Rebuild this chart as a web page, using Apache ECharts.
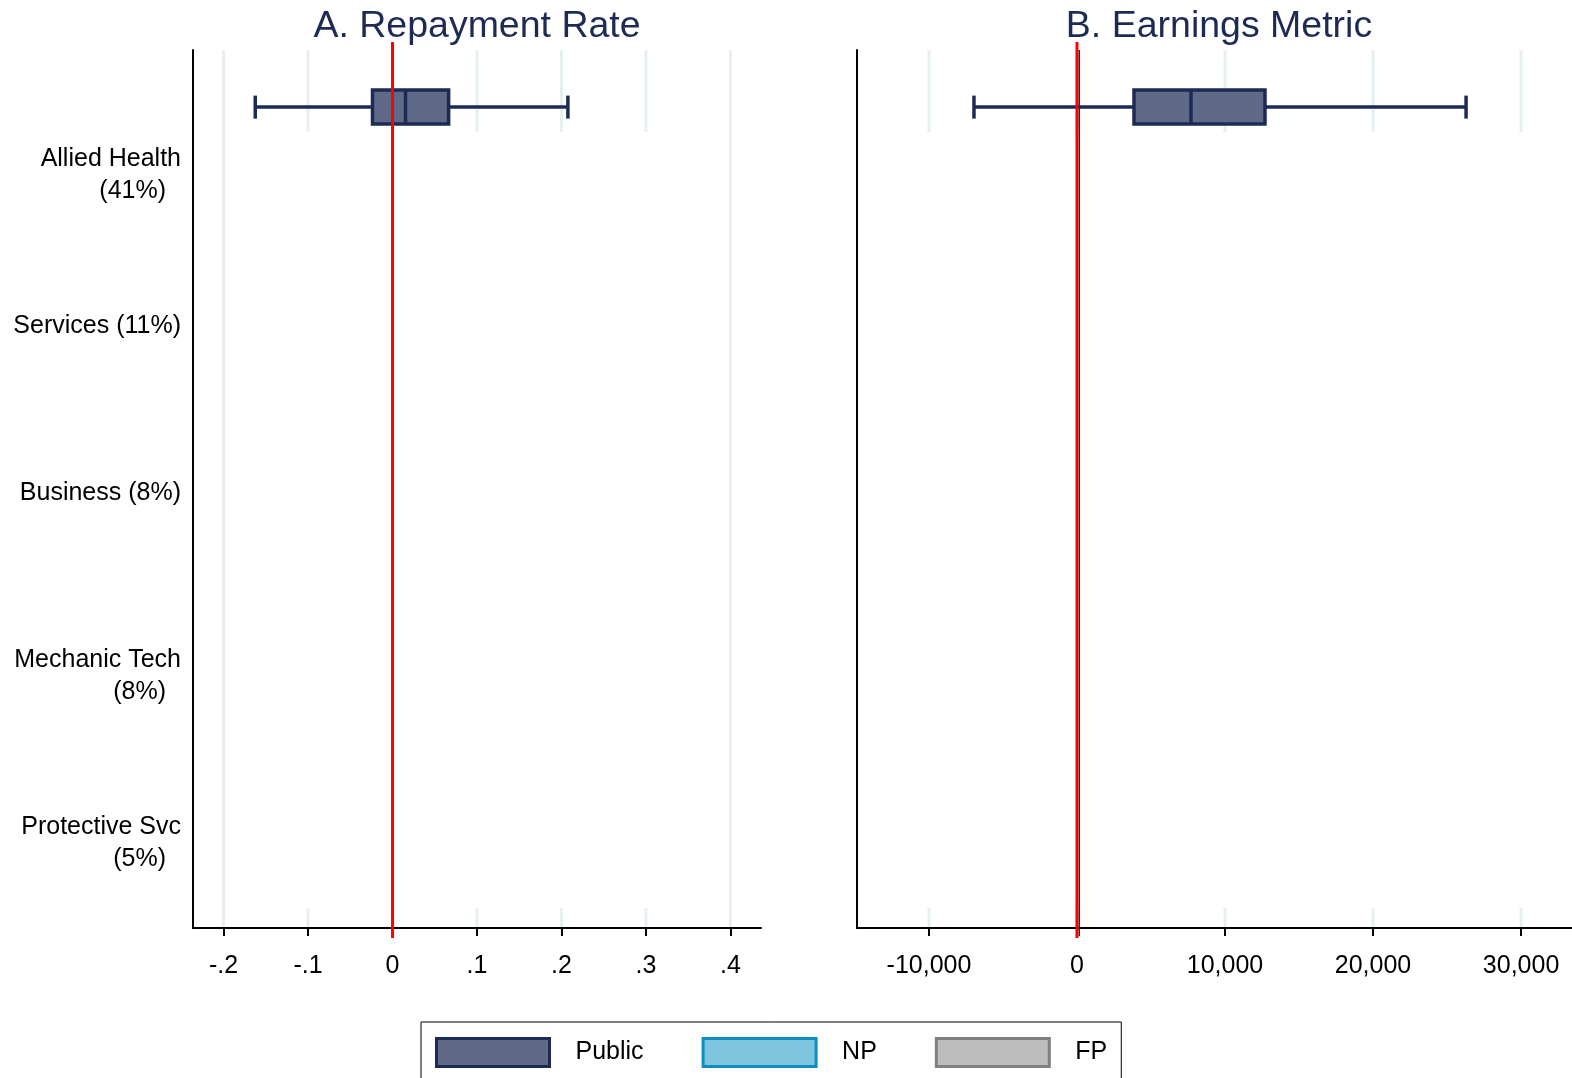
<!DOCTYPE html>
<html>
<head>
<meta charset="utf-8">
<script src="https://cdn.jsdelivr.net/npm/echarts@6/dist/echarts.min.js"></script>
<style>
  html, body { margin: 0; padding: 0; background: #ffffff; }
  #chart { width: 1572px; height: 1078px; }
</style>
</head>
<body>
<div id="chart"></div>
<script>
// ---------------- data ----------------
const categories = ['Allied Health\n(41%)', 'Services (11%)', 'Business (8%)', 'Mechanic Tech\n(8%)', 'Protective Svc\n(5%)'];
const groups = ['Public', 'NP', 'FP'];
// box statistics per category: [lower whisker, Q1, median, Q3, upper whisker]; null = no box drawn
const repaymentPublic = [[-0.1625, -0.0237, 0.0154, 0.0664, 0.2076], null, null, null, null];
const repaymentNP = [null, null, null, null, null];
const repaymentFP = [null, null, null, null, null];
const earningsPublic = [[-6960, 3851, 7700, 12700, 26284], null, null, null, null];
const earningsNP = [null, null, null, null, null];
const earningsFP = [null, null, null, null, null];
const repaymentTicks = [-0.2, -0.1, 0, 0.1, 0.2, 0.3, 0.4];
const earningsTicks = [-10000, 0, 10000, 20000, 30000];
const referenceLine = [0];
const panelTitles = ['A. Repayment Rate', 'B. Earnings Metric'];

// ---------------- styling ----------------
const FONT = "'Liberation Sans', Arial, Helvetica, sans-serif";
const groupStyle = {
  Public: { fill: '#5f6a88', stroke: '#1d2b54' },
  NP: { fill: '#7fc4df', stroke: '#0e8dc0' },
  FP: { fill: '#bdbdbd', stroke: '#808080' }
};
const groupOffset = [-0.395, 0, 0.395];

function toItems(arr, g) {
  const out = [];
  arr.forEach((v, i) => { if (v) out.push([i, g].concat(v)); });
  return out;
}

function renderBox(params, api) {
  const cat = api.value(0), g = api.value(1);
  const y = cat + groupOffset[g];
  const st = groupStyle[groups[g]];
  const pLo = api.coord([api.value(2), y]);
  const pQ1 = api.coord([api.value(3), y]);
  const pMed = api.coord([api.value(4), y]);
  const pQ3 = api.coord([api.value(5), y]);
  const pHi = api.coord([api.value(6), y]);
  const py = pLo[1];
  const hb = 17, hc = 11.5;
  const ls = { stroke: st.stroke, lineWidth: 3.5, fill: null };
  return {
    type: 'group',
    children: [
      { type: 'line', shape: { x1: pLo[0], y1: py, x2: pQ1[0], y2: py }, style: ls },
      { type: 'line', shape: { x1: pQ3[0], y1: py, x2: pHi[0], y2: py }, style: ls },
      { type: 'line', shape: { x1: pLo[0], y1: py - hc, x2: pLo[0], y2: py + hc }, style: ls },
      { type: 'line', shape: { x1: pHi[0], y1: py - hc, x2: pHi[0], y2: py + hc }, style: ls },
      { type: 'rect', shape: { x: pQ1[0], y: py - hb, width: pQ3[0] - pQ1[0], height: 2 * hb },
        style: { fill: st.fill, stroke: st.stroke, lineWidth: 3.5 } },
      { type: 'line', shape: { x1: pMed[0], y1: py - hb, x2: pMed[0], y2: py + hb }, style: ls }
    ]
  };
}

function makeGridRenderer(maskLo, maskHi) {
  return function (params, api) {
    const cs = params.coordSys;
    const v = api.value(0);
    const x = api.coord([v, 0])[0];
    const st = { stroke: '#e6eff1', lineWidth: 3 };
    const top = cs.y, bot = cs.y + cs.height;
    if (v < maskLo || v > maskHi) {
      return { type: 'line', shape: { x1: x, y1: top, x2: x, y2: bot - 1 }, style: st };
    }
    return {
      type: 'group',
      children: [
        { type: 'line', shape: { x1: x, y1: top, x2: x, y2: top + 82 }, style: st },
        { type: 'line', shape: { x1: x, y1: bot - 20, x2: x, y2: bot - 1 }, style: st }
      ]
    };
  };
}

function makeRefRenderer(withDarkEdge) {
  return function (params, api) {
    const cs = params.coordSys;
    const x = api.coord([api.value(0), 0])[0];
    const children = [];
    if (withDarkEdge) {
      children.push({ type: 'line', shape: { x1: x + 2.3, y1: cs.y, x2: x + 2.3, y2: cs.y + cs.height + 8 },
                      style: { stroke: '#2a2a2a', lineWidth: 1.5 } });
    }
    children.push({ type: 'line', shape: { x1: x, y1: cs.y - 8, x2: x, y2: cs.y + cs.height + 10 },
                    style: { stroke: '#ff0000', lineWidth: 3 } });
    return { type: 'group', children: children };
  };
}

function fmtRate(v) {
  if (Math.abs(v) < 1e-9) return '0';
  const s = Math.abs(v).toFixed(1).replace(/^0/, '');
  return (v < 0 ? '-' : '') + s;
}
function fmtMoney(v) {
  return String(v).replace(/\B(?=(\d{3})+(?!\d))/g, ',');
}

const chart = echarts.init(document.getElementById('chart'), null, { renderer: 'canvas' });

function yAxisCfg(showLabels) {
  return {
    type: 'value', inverse: true, min: -0.737, max: 4.521,
    axisLine: { show: true, onZero: false, lineStyle: { color: '#000', width: 2 } },
    axisTick: { show: false },
    splitLine: { show: false },
    axisLabel: {
      show: showLabels, customValues: [0, 1, 2, 3, 4], margin: 12,
      formatter: function (v) {
        const parts = categories[Math.round(v)].split('\n');
        return '{a|' + parts[0] + '}\n{b|' + (parts[1] || ' ') + '}';
      },
      rich: {
        a: { fontSize: 25, lineHeight: 32, color: '#000', fontFamily: FONT, padding: [4, 0, 0, 0] },
        b: { fontSize: 25, lineHeight: 32, color: '#000', fontFamily: FONT, padding: [4, 15, 0, 0] }
      }
    }
  };
}

function xAxisCfg(idx, min, max, ticks, fmt) {
  return {
    type: 'value', gridIndex: idx, min: min, max: max,
    axisLine: { show: true, onZero: false, lineStyle: { color: '#000', width: 2 } },
    axisTick: { show: true, customValues: ticks, length: 8, lineStyle: { color: '#000', width: 2 } },
    splitLine: { show: false },
    axisLabel: { customValues: ticks, formatter: fmt, margin: 26, fontSize: 25, color: '#000', fontFamily: FONT }
  };
}

const option = {
  backgroundColor: '#ffffff',
  animation: false,
  title: [
    { text: panelTitles[0], left: 472, top: 3, textAlign: 'center',
      textStyle: { fontSize: 37.5, fontWeight: 'normal', color: '#1d2b54', fontFamily: FONT } },
    { text: panelTitles[1], left: 1214, top: 3, textAlign: 'center',
      textStyle: { fontSize: 37.5, fontWeight: 'normal', color: '#1d2b54', fontFamily: FONT } }
  ],
  grid: [
    { left: 193, top: 50, width: 568, height: 878 },
    { left: 857, top: 50, right: 0, height: 878 }
  ],
  xAxis: [
    xAxisCfg(0, -0.2362, 0.4362, repaymentTicks, fmtRate),
    xAxisCfg(1, -14862, 33441, earningsTicks, fmtMoney)
  ],
  yAxis: [
    Object.assign(yAxisCfg(true), { gridIndex: 0 }),
    Object.assign(yAxisCfg(false), { gridIndex: 1 })
  ],
  legend: {
    left: 421, top: 1022, orient: 'horizontal',
    padding: [15, 14, 14, 14], itemWidth: 113, itemHeight: 28, itemGap: 58,
    backgroundColor: '#fff', borderColor: '#000', borderWidth: 1, borderRadius: 0,
    selectedMode: false,
    textStyle: { fontSize: 25, color: '#000', fontFamily: FONT, padding: [14, 0, 0, 21] },
    data: groups.map(g => ({ name: g, icon: 'rect',
      itemStyle: { color: groupStyle[g].fill, borderColor: groupStyle[g].stroke, borderWidth: 3 } }))
  },
  series: [
    { type: 'custom', xAxisIndex: 0, yAxisIndex: 0, silent: true, z: 1, clip: false,
      renderItem: makeGridRenderer(-0.15, 0.35), data: repaymentTicks.map(v => [v]) },
    { type: 'custom', xAxisIndex: 1, yAxisIndex: 1, silent: true, z: 1, clip: false,
      renderItem: makeGridRenderer(-20000, 40000), data: earningsTicks.map(v => [v]) },

    { name: 'Public', type: 'custom', xAxisIndex: 0, yAxisIndex: 0, z: 3, renderItem: renderBox,
      itemStyle: { color: groupStyle.Public.fill }, encode: { x: [2, 6], y: 0 }, data: toItems(repaymentPublic, 0) },
    { name: 'NP', type: 'custom', xAxisIndex: 0, yAxisIndex: 0, z: 3, renderItem: renderBox,
      itemStyle: { color: groupStyle.NP.fill }, encode: { x: [2, 6], y: 0 }, data: toItems(repaymentNP, 1) },
    { name: 'FP', type: 'custom', xAxisIndex: 0, yAxisIndex: 0, z: 3, renderItem: renderBox,
      itemStyle: { color: groupStyle.FP.fill }, encode: { x: [2, 6], y: 0 }, data: toItems(repaymentFP, 2) },
    { name: 'Public', type: 'custom', xAxisIndex: 1, yAxisIndex: 1, z: 3, renderItem: renderBox,
      itemStyle: { color: groupStyle.Public.fill }, encode: { x: [2, 6], y: 0 }, data: toItems(earningsPublic, 0) },
    { name: 'NP', type: 'custom', xAxisIndex: 1, yAxisIndex: 1, z: 3, renderItem: renderBox,
      itemStyle: { color: groupStyle.NP.fill }, encode: { x: [2, 6], y: 0 }, data: toItems(earningsNP, 1) },
    { name: 'FP', type: 'custom', xAxisIndex: 1, yAxisIndex: 1, z: 3, renderItem: renderBox,
      itemStyle: { color: groupStyle.FP.fill }, encode: { x: [2, 6], y: 0 }, data: toItems(earningsFP, 2) },

    { type: 'custom', xAxisIndex: 0, yAxisIndex: 0, silent: true, z: 5, clip: false,
      renderItem: makeRefRenderer(false), data: referenceLine.map(v => [v]) },
    { type: 'custom', xAxisIndex: 1, yAxisIndex: 1, silent: true, z: 5, clip: false,
      renderItem: makeRefRenderer(true), data: referenceLine.map(v => [v]) }
  ]
};
chart.setOption(option);
</script>
</body>
</html>
